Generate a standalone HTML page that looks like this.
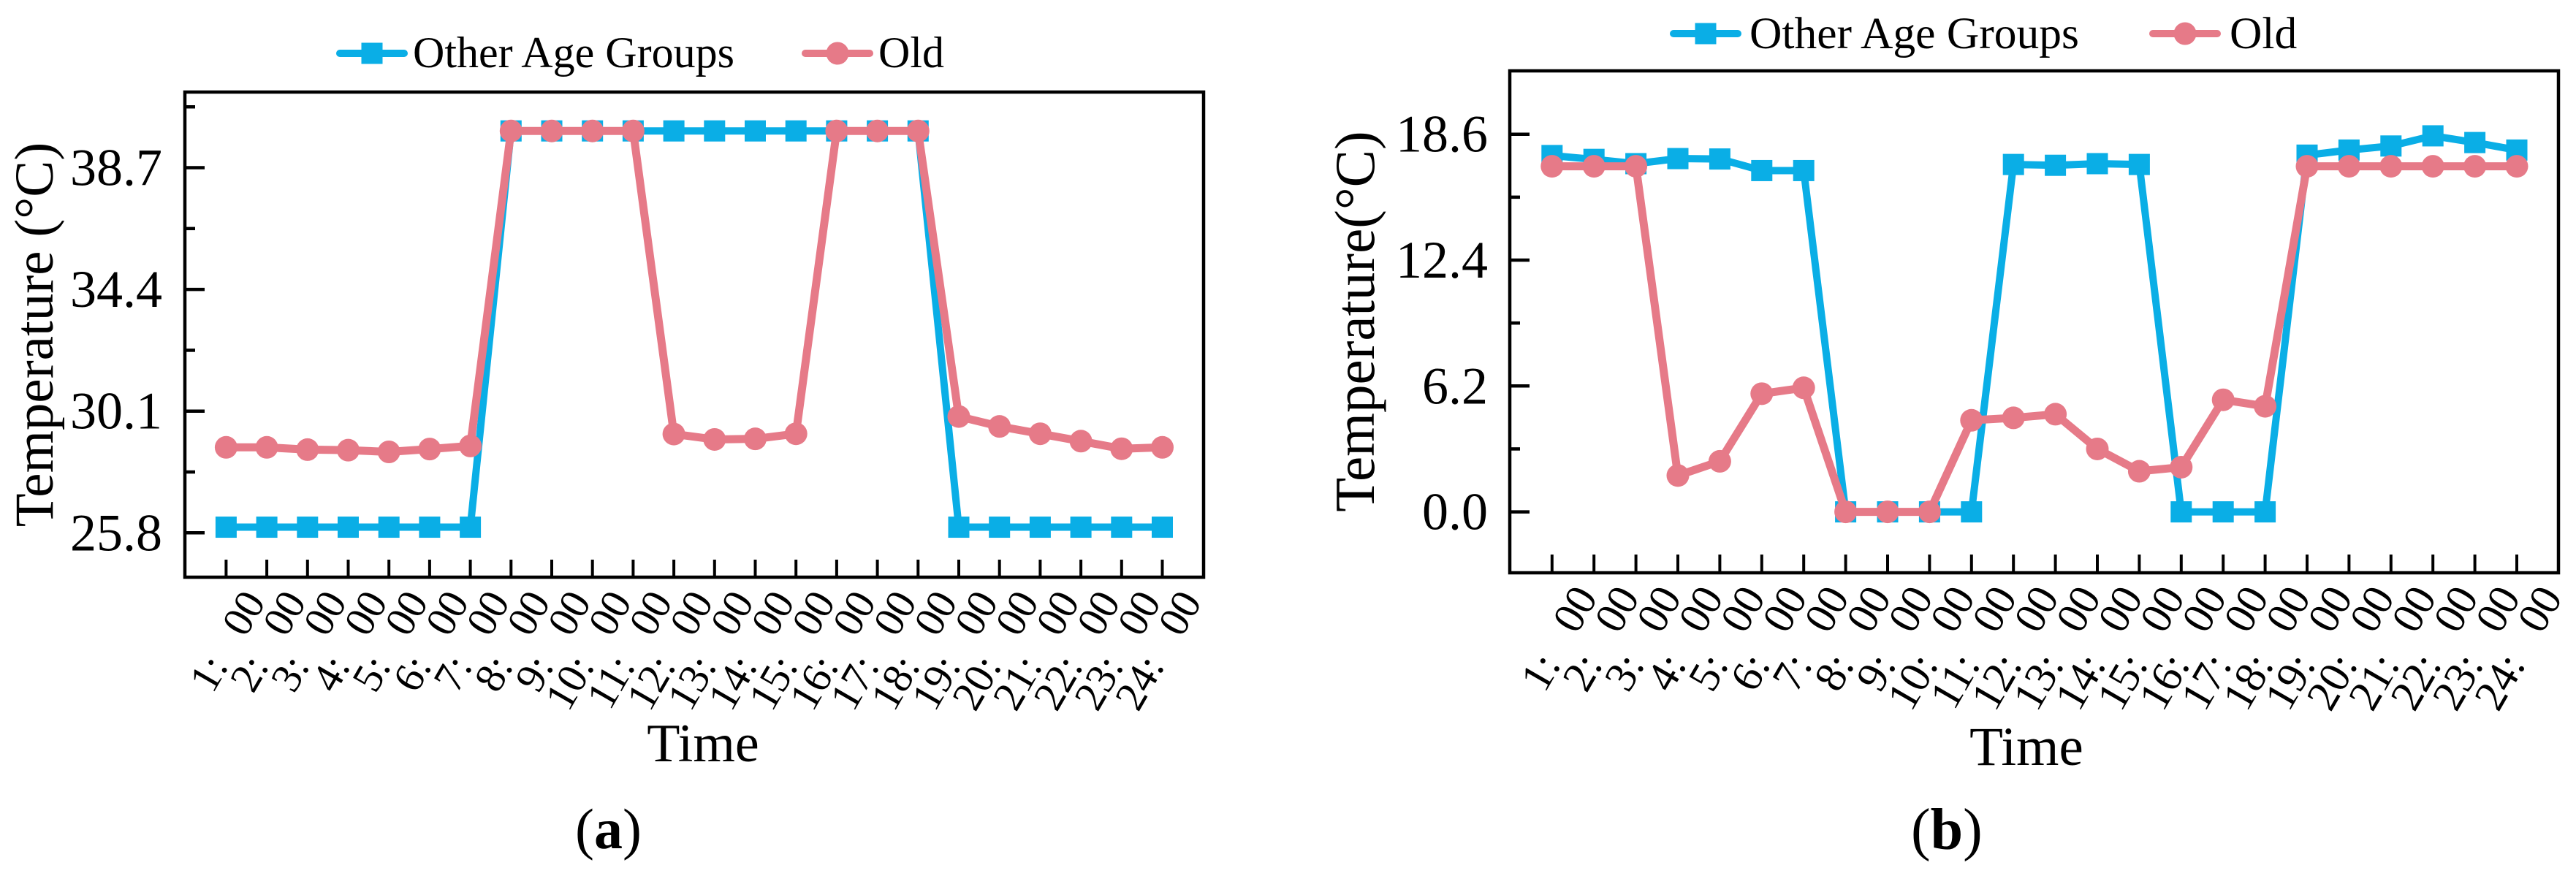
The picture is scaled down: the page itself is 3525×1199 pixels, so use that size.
<!DOCTYPE html>
<html lang="en">
<head>
<meta charset="utf-8">
<title>Temperature by time of day</title>
<style>
html,body{margin:0;padding:0;background:#fff;}
svg{display:block;font-family:"Liberation Serif","Times New Roman",serif;fill:#000;}
</style>
</head>
<body>
<svg id="fig" xmlns="http://www.w3.org/2000/svg" width="3525" height="1199" viewBox="0 0 3525 1199">
<rect x="0" y="0" width="3525" height="1199" fill="#fff"/>
<g id="panel-a"></g>
<g id="panel-b"></g>
<text x="787" y="1161" font-size="78">(<tspan font-weight="bold">a</tspan>)</text>
<text x="2615" y="1162" font-size="80">(<tspan font-weight="bold">b</tspan>)</text>
</svg>
<script>
const hourLabels = ['1:','2:','3:','4:','5:','6:','7:','8:','9:','10:','11:','12:','13:','14:','15:','16:','17:','18:','19:','20:','21:','22:','23:','24:'];
const minuteLabel = '00';
const seriesNames = ['Other Age Groups','Old'];

const aYTicks = [25.8,30.1,34.4,38.7];
const aYMinorTicks = [27.95,32.25,36.55,40.85];
const aYTickLabels = ['25.8','30.1','34.4','38.7'];
const aOther = [26,26,26,26,26,26,26,40,40,40,40,40,40,40,40,40,40,40,26,26,26,26,26,26];
const aOld = [28.82,28.82,28.74,28.72,28.66,28.76,28.87,40,40,40,40,29.29,29.1,29.12,29.3,40,40,40,29.91,29.56,29.3,29.04,28.77,28.82];

const bYTicks = [0,6.2,12.4,18.6];
const bYMinorTicks = [3.1,9.3,15.5];
const bYTickLabels = ['0.0','6.2','12.4','18.6'];
const bOther = [17.55,17.36,17.15,17.4,17.38,16.81,16.81,0,0,0,0,17.11,17.07,17.15,17.11,0,0,0,17.57,17.82,18.02,18.52,18.19,17.82];
const bOld = [17.02,17.02,17.02,1.79,2.49,5.82,6.11,0,0,0,4.51,4.63,4.81,3.1,2,2.2,5.52,5.2,17.02,17.02,17.02,17.02,17.02,17.02];

const BLUE = '#0aaee6';
const PINK = '#e67a88';
const NS = 'http://www.w3.org/2000/svg';

function make(parent, tag, attrs, text) {
  const el = document.createElementNS(NS, tag);
  for (const k in attrs) el.setAttribute(k, attrs[k]);
  if (text !== undefined) el.textContent = text;
  parent.appendChild(el);
  return el;
}

function drawPanel(root, layout, yTicks, yMinor, yLabels, other, old) {
  const xOf = i => layout.x0 + i * layout.dx;
  const yOf = v => layout.yRef - (v - layout.vRef) * layout.pxPerUnit;

  // series lines and markers
  const otherPts = other.map((v, i) => xOf(i) + ',' + yOf(v)).join(' ');
  const otherLine = make(root, 'polyline', {points: otherPts, fill: 'none', stroke: BLUE, 'stroke-width': 10, 'stroke-linejoin': 'round'});
  
  
  other.forEach((v, i) => {
    const m = make(root, 'rect', {x: xOf(i) - 14.5, y: yOf(v) - 14.5, width: 29, height: 29, fill: BLUE});
    
    
  });
  const oldPts = old.map((v, i) => xOf(i) + ',' + yOf(v)).join(' ');
  const oldLine = make(root, 'polyline', {points: oldPts, fill: 'none', stroke: PINK, 'stroke-width': 11, 'stroke-linejoin': 'round'});
  
  
  old.forEach((v, i) => {
    const m = make(root, 'circle', {cx: xOf(i), cy: yOf(v), r: 15.5, fill: PINK});
    
    
  });

  // frame
  const frame = make(root, 'rect', {x: layout.left, y: layout.top, width: layout.right - layout.left, height: layout.bottom - layout.top, fill: 'none', stroke: '#000', 'stroke-width': 4.5});
  
  

  // y axis
  yTicks.forEach((v, i) => {
    const t = make(root, 'line', {x1: layout.left, x2: layout.left + 27, y1: yOf(v), y2: yOf(v), stroke: '#000', 'stroke-width': 4.5});
    
    
    const l = make(root, 'text', {x: layout.yLabelRight, y: yOf(v) + 24, 'font-size': 72, 'text-anchor': 'end'}, yLabels[i]);
    
    
  });
  yMinor.forEach(v => {
    const t = make(root, 'line', {x1: layout.left, x2: layout.left + 14, y1: yOf(v), y2: yOf(v), stroke: '#000', 'stroke-width': 4.5});
    
    
  });

  // x axis
  hourLabels.forEach((h, i) => {
    const x = xOf(i);
    const t = make(root, 'line', {x1: x, x2: x, y1: layout.bottom, y2: layout.bottom - layout.xTickLen, stroke: '#000', 'stroke-width': 4});
    
    
    const m = make(root, 'text', {transform: 'translate(' + (x + layout.minOffX) + ',' + layout.minY + ') rotate(-60)', 'font-size': layout.xFont, 'text-anchor': 'middle'}, minuteLabel);
    
    
    const l = make(root, 'text', {transform: 'translate(' + (x + layout.hourOffX) + ',' + layout.hourY + ') rotate(-60)', 'font-size': layout.xFont, 'text-anchor': 'end'}, h);
    
    
  });

  // axis titles
  const yt = make(root, 'text', {transform: 'translate(' + layout.yTitleX + ',' + layout.yTitleY + ') rotate(-90)', 'font-size': layout.yTitleFont, 'text-anchor': 'middle'}, layout.yTitle);
  
  
  const xt = make(root, 'text', {x: layout.xTitleX, y: layout.xTitleY, 'font-size': layout.xTitleFont, 'text-anchor': 'middle'}, 'Time');
  
  

  // legend
  const L = layout.legend;
  const l1 = make(root, 'line', {x1: L.x1, x2: L.x1 + 88, y1: L.y, y2: L.y, stroke: BLUE, 'stroke-width': 10, 'stroke-linecap': 'round'});
  
  
  const s1 = make(root, 'rect', {x: L.x1 + 44 - 14.5, y: L.y - 14.5, width: 29, height: 29, fill: BLUE});
  
  
  const t1 = make(root, 'text', {x: L.t1, y: L.base, 'font-size': L.font}, seriesNames[0]);
  
  
  const l2 = make(root, 'line', {x1: L.x2, x2: L.x2 + 88, y1: L.y, y2: L.y, stroke: PINK, 'stroke-width': 10, 'stroke-linecap': 'round'});
  
  
  const c2 = make(root, 'circle', {cx: L.x2 + 44, cy: L.y, r: 15.5, fill: PINK});
  
  
  const t2 = make(root, 'text', {x: L.t2, y: L.base, 'font-size': L.font}, seriesNames[1]);
  
  
}

drawPanel(document.getElementById('panel-a'), {
  x0: 309.4, dx: 55.7, yRef: 729.3, vRef: 25.8, pxPerUnit: 38.74,
  left: 253, right: 1647, top: 126, bottom: 790,
  yLabelRight: 222, xTickLen: 24, xFont: 58,
  minOffX: 40.6, minY: 848.8, hourOffX: 4, hourY: 911.5,
  yTitle: 'Temperature (°C)', yTitleX: 72, yTitleY: 458, yTitleFont: 75,
  xTitleX: 962, xTitleY: 1042, xTitleFont: 74,
  legend: {x1: 465, x2: 1102, y: 73, t1: 565, t2: 1202, base: 92, font: 60}
}, aYTicks, aYMinorTicks, aYTickLabels, aOther, aOld);

drawPanel(document.getElementById('panel-b'), {
  x0: 2123.8, dx: 57.4, yRef: 700.6, vRef: 0, pxPerUnit: 27.79,
  left: 2066, right: 3501, top: 97, bottom: 784,
  yLabelRight: 2036, xTickLen: 25, xFont: 60,
  minOffX: 48.6, minY: 843.5, hourOffX: 13, hourY: 909.5,
  yTitle: 'Temperature(°C)', yTitleX: 1880, yTitleY: 440, yTitleFont: 77,
  xTitleX: 2773, xTitleY: 1047, xTitleFont: 75,
  legend: {x1: 2290, x2: 2946, y: 46, t1: 2394, t2: 3051, base: 66, font: 61.5}
}, bYTicks, bYMinorTicks, bYTickLabels, bOther, bOld);
</script>
</body>
</html>
